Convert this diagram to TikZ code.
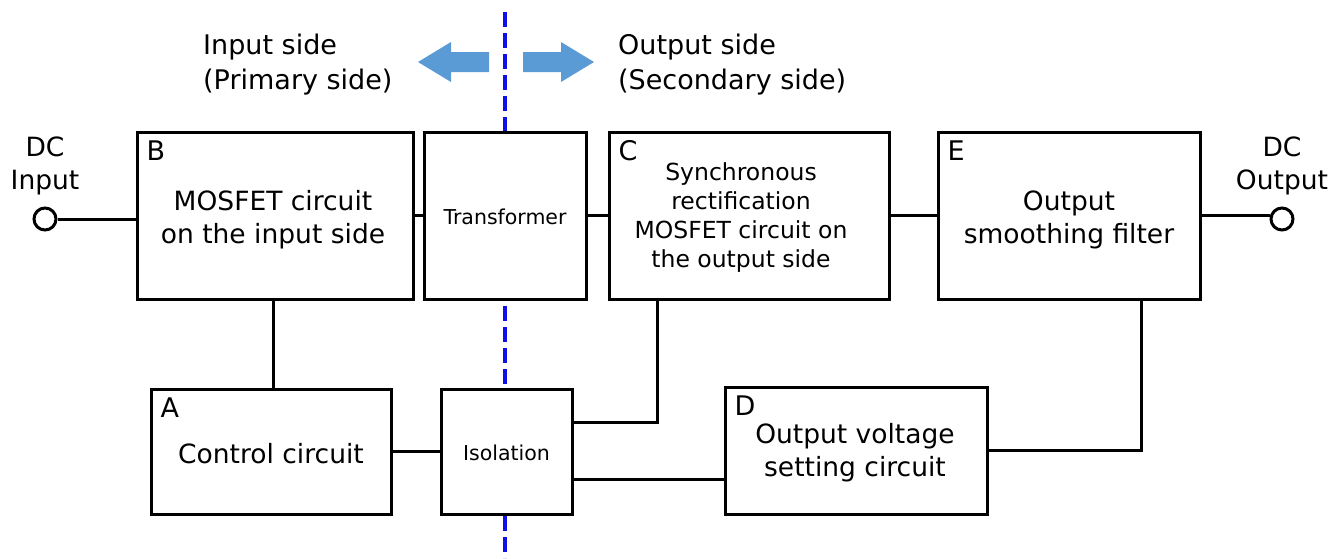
\documentclass[tikz,border=0pt]{standalone}
\usepackage{fontspec}
\setmainfont{DejaVu Sans}
\definecolor{arrowblue}{HTML}{5B9BD5}
\definecolor{dashblue}{RGB}{16,16,230}
\tikzset{
  blk/.style={draw, line width=3pt, fill=white, inner sep=0pt},
  txt/.style={inner sep=0pt, align=center, font=\fontsize{26.5}{33}\selectfont},
  smalltxt/.style={txt, font=\fontsize{20.5}{30}\selectfont},
  midtxt/.style={txt, font=\fontsize{23.5}{29}\selectfont},
  letter/.style={anchor=north west, inner sep=0pt, font=\fontsize{27}{30}\selectfont},
  wire/.style={line width=3pt},
  term/.style={circle, draw, line width=3pt, minimum size=22pt, inner sep=0pt, fill=white},
  lbl/.style={inner sep=0pt, align=center, font=\fontsize{26.5}{33}\selectfont},
  sidelbl/.style={inner sep=0pt, align=left, anchor=west, font=\fontsize{27}{35}\selectfont},
  bigarrow/.style={fill=arrowblue, draw=none}
}
\begin{document}
\begin{tikzpicture}[x=1pt,y=-1pt]
\useasboundingbox (0,0) rectangle (1344,558);
% isolation boundary
\draw[dashblue, line width=3.6pt, dash pattern=on 15pt off 6pt] (505,12) -- (505,558);
% side arrows
\fill[bigarrow] (418,62) -- (451,42) -- (451,52) -- (489,52) -- (489,72) -- (451,72) -- (451,82) -- cycle;
\fill[bigarrow] (594,62) -- (561,42) -- (561,52) -- (523,52) -- (523,72) -- (561,72) -- (561,82) -- cycle;
\node[sidelbl] (inlbl) at (203,65) {Input side\\(Primary side)};
\node[sidelbl] (outlbl) at (618,65) {Output side\\(Secondary side)};
% blocks
\node[blk, minimum width=276pt, minimum height=167pt] (B) at (275,215.5) {};
\node[blk, minimum width=162pt, minimum height=167pt] (T) at (505,215.5) {};
\node[blk, minimum width=280pt, minimum height=167pt] (C) at (749,215.5) {};
\node[blk, minimum width=262pt, minimum height=167pt] (E) at (1069,215.5) {};
\node[blk, minimum width=240pt, minimum height=125pt] (A) at (271,451.5) {};
\node[blk, minimum width=131pt, minimum height=125pt] (I) at (506.5,451.5) {};
\node[blk, minimum width=262pt, minimum height=127pt] (D) at (856,450.5) {};
% block texts
\node[txt] (Bt) at (273,220) {MOSFET circuit\\on the input side};
\node[smalltxt] (Tt) at (505,217) {Transformer};
\node[midtxt] (Ct) at (741,218) {Synchronous\\rectification\\MOSFET circuit on\\the output side};
\node[txt] (Et) at (1069,220) {Output\\smoothing filter};
\node[txt] (At) at (271,454) {Control circuit};
\node[smalltxt] (It) at (506.5,453) {Isolation};
\node[txt] (Dt) at (855,453) {Output voltage\\setting circuit};
% letters
\node[letter] (lB) at ([xshift=11pt,yshift=-10pt]B.north west) {B};
\node[letter] (lC) at ([xshift=11pt,yshift=-10pt]C.north west) {C};
\node[letter] (lE) at ([xshift=11pt,yshift=-10pt]E.north west) {E};
\node[letter] (lA) at ([xshift=11pt,yshift=-10pt]A.north west) {A};
\node[letter] (lD) at ([xshift=11pt,yshift=-10pt]D.north west) {D};
% terminals
\node[term] (inT) at (45,219) {};
\node[term] (outT) at (1282,219) {};
\node[lbl] (inTxt) at (45,166) {DC\\Input};
\node[lbl] (outTxt) at (1282,166) {DC\\Output};
% connectors
\draw[wire] (inT) -- (inT -| B.west);
\draw[wire] (B.east) -- (T.west);
\draw[wire] (T.east) -- (C.west);
\draw[wire] (C.east) -- (E.west);
\draw[wire] (E.east) -- (E.east -| outT.west);
\draw[wire] ([xshift=-2pt]B.south) -- ([xshift=-2pt]B.south |- A.north);
\draw[wire] (A.east) -- (I.west);
\draw[wire] ([yshift=29.5pt]I.east) -| ([xshift=-92pt]C.south);
\coordinate (Ilow) at ([yshift=-27.5pt]I.east);
\draw[wire] (Ilow) -- (Ilow -| D.west);
\draw[wire] (D.east) -| ([xshift=72pt]E.south);
\end{tikzpicture}
\end{document}
